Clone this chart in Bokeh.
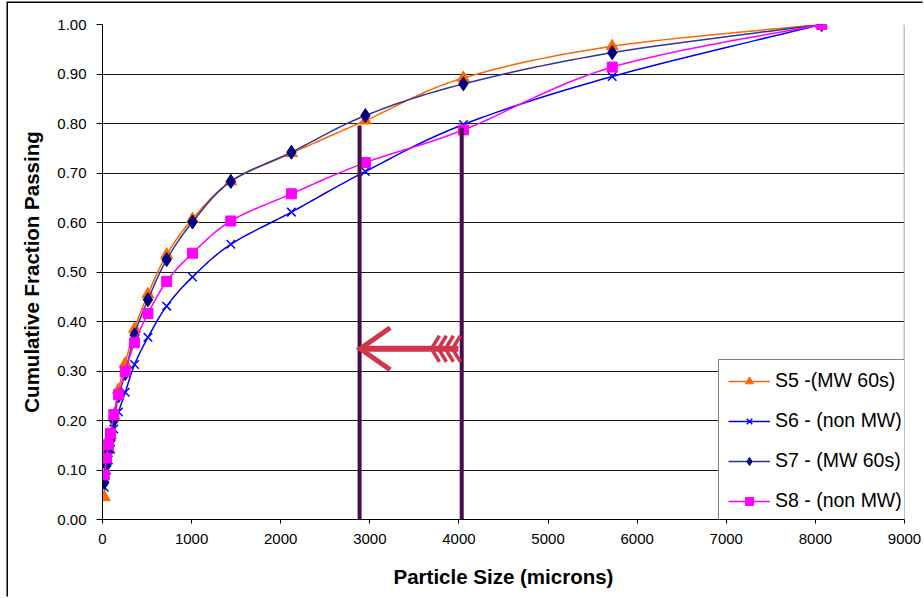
import numpy as np
from bokeh.plotting import figure
from bokeh.models import (Range1d, NumeralTickFormatter, FixedTicker, Legend,
                          LegendItem, Span)
from bokeh.embed import file_html
from bokeh.resources import INLINE

# ---- data ----
sizes = [20, 45, 64, 90, 127, 180, 255, 360, 510, 720, 1010, 1440, 2120, 2950, 4050, 5720, 8070]
s5 = [0.045, 0.120, 0.145, 0.170, 0.210, 0.262, 0.315, 0.385, 0.455, 0.535, 0.607, 0.683, 0.740, 0.806, 0.892, 0.956, 1.0]
s6 = [0.065, 0.100, 0.120, 0.142, 0.183, 0.217, 0.257, 0.313, 0.368, 0.431, 0.490, 0.556, 0.621, 0.703, 0.798, 0.895, 1.0]
s7 = [0.075, 0.110, 0.135, 0.160, 0.200, 0.250, 0.295, 0.373, 0.444, 0.525, 0.601, 0.683, 0.742, 0.816, 0.880, 0.943, 1.0]
s8 = [0.090, 0.124, 0.151, 0.174, 0.212, 0.252, 0.299, 0.357, 0.416, 0.481, 0.538, 0.603, 0.658, 0.721, 0.787, 0.914, 1.0]
series_labels = ["S5 -(MW 60s)", "S6 - (non MW)", "S7 - (MW 60s)", "S8 - (non MW)"]
x_ticks = [0, 1000, 2000, 3000, 4000, 5000, 6000, 7000, 8000, 9000]
y_ticks = [0.0, 0.1, 0.2, 0.3, 0.4, 0.5, 0.6, 0.7, 0.8, 0.9, 1.0]

# annotation lines and arrow
mark_x = [2885, 4031]
mark_top = [0.796, 0.792]
arrow_tail_x = 3994
arrow_tip_x = 2892
arrow_y = 0.345

FONT = "Liberation Sans"
X_MAX, Y_MAX = 9000, 1.0
FRAME_W, FRAME_H = 802, 495
XPP = X_MAX / FRAME_W   # data units per pixel
YPP = Y_MAX / FRAME_H


def smooth(xs, ys, n=16):
    P = np.column_stack([xs, ys]).astype(float)
    ext = np.vstack([P[0], P, P[-1]])
    t = np.linspace(0, 1, n + 1)[1:][:, None]
    out = [P[0][None, :]]
    for i in range(len(P) - 1):
        p0, p1, p2, p3 = ext[i], ext[i + 1], ext[i + 2], ext[i + 3]
        c1 = p1 + (p2 - p0) / 6.0
        c2 = p2 - (p3 - p1) / 6.0
        pts = ((1 - t) ** 3) * p1 + 3 * (1 - t) ** 2 * t * c1 + 3 * (1 - t) * t ** 2 * c2 + t ** 3 * p2
        out.append(pts)
    arr = np.vstack(out)
    return arr[:, 0], arr[:, 1]


p = figure(width=916, height=595, output_backend="svg", toolbar_location=None,
           x_range=Range1d(0, X_MAX), y_range=Range1d(0, Y_MAX),
           min_border_left=94, min_border_right=20, min_border_top=21, min_border_bottom=79)
p.margin = (3, 0, 0, 8)
p.styles = {"box-shadow": "-1.5px -1.5px 0px 0px #000000"}
p.background_fill_color = "white"
p.border_fill_color = "white"
p.outline_line_color = None

# axes
p.xaxis.ticker = FixedTicker(ticks=x_ticks)
p.yaxis.ticker = FixedTicker(ticks=y_ticks)
p.yaxis.formatter = NumeralTickFormatter(format="0.00")
for ax in (p.xaxis[0], p.yaxis[0]):
    ax.axis_line_color = "black"
    ax.axis_line_width = 1
    ax.major_tick_line_color = "black"
    ax.minor_tick_line_color = None
    ax.major_tick_in = 0
    ax.major_label_text_font = FONT
    ax.major_label_text_font_size = "15px"
    ax.major_label_text_color = "black"
    ax.axis_label_text_font = FONT
    ax.axis_label_text_font_style = "bold"
    ax.axis_label_text_font_size = "20.5px"
    ax.axis_label_text_color = "black"
p.xaxis.major_tick_out = 4
p.yaxis.major_tick_out = 6
p.xaxis.major_label_standoff = 10
p.yaxis.major_label_standoff = 10
p.xaxis.axis_label = "Particle Size (microns)"
p.yaxis.axis_label = "Cumulative Fraction Passing"
p.xaxis.axis_label_standoff = 18
p.yaxis.axis_label_standoff = 11

p.xgrid.grid_line_color = None
p.ygrid.ticker = FixedTicker(ticks=y_ticks)
p.ygrid.grid_line_color = "#1a1a1a"
p.ygrid.grid_line_width = 1

# right border of plot area
p.add_layout(Span(location=X_MAX, dimension="height", line_color="#888888", line_width=1.5))

# series
styles = [
    (s5, "#FF6600", "#FF6600", "triangle", 12, 1),
    (s6, "#0000FF", "#0000FF", "x", 12, 1.5),
    (s7, "#333399", "#000080", "diamond", 14, 1),
    (s8, "#FF00FF", "#FF00FF", "square", 10, 1),
]
items = []
for (ys, lc, mc, marker, size, mlw), label in zip(styles, series_labels):
    sx, sy = smooth(sizes, ys)
    lr = p.line(sx, sy, line_color=lc, line_width=1.5)
    sr = p.scatter(sizes, ys, marker=marker, size=size, fill_color=mc, line_color=mc,
                   line_width=mlw)
    items.append(LegendItem(label=label, renderers=[lr, sr]))

# vertical marker lines
p.segment(x0=mark_x, y0=[0, 0], x1=mark_x, y1=mark_top, line_color="#4A0A4E", line_width=4)

# arrow
AC = "#D0354A"
p.segment(x0=[arrow_tail_x], y0=[arrow_y], x1=[arrow_tip_x + 4 * XPP], y1=[arrow_y],
          line_color=AC, line_width=6, line_cap="butt")
p.line([arrow_tip_x + 30 * XPP, arrow_tip_x, arrow_tip_x + 30 * XPP],
       [arrow_y + 21 * YPP, arrow_y, arrow_y - 21 * YPP],
       line_color=AC, line_width=5, line_join="miter")
fx0, fy0, fx1, fy1 = [], [], [], []
for k in range(4):
    xs = arrow_tail_x - (27 - 7 * k) * XPP
    for sgn in (1, -1):
        fx0.append(xs)
        fy0.append(arrow_y)
        fx1.append(xs + 8 * XPP)
        fy1.append(arrow_y + sgn * 13 * YPP)
p.segment(x0=fx0, y0=fy0, x1=fx1, y1=fy1, line_color=AC, line_width=3.5)

legend = Legend(items=items, location=(616, -3))
legend.label_text_font = FONT
legend.label_text_font_size = "19.5px"
legend.label_text_color = "black"
legend.label_height = 20
legend.glyph_height = 20
legend.glyph_width = 42
legend.spacing = 17
legend.padding = 9
legend.margin = 0
legend.label_standoff = 5
legend.border_line_color = "black"
legend.border_line_width = 1
legend.background_fill_color = "white"
legend.background_fill_alpha = 1
p.add_layout(legend)

open("out.html", "w").write(file_html(p, INLINE))
